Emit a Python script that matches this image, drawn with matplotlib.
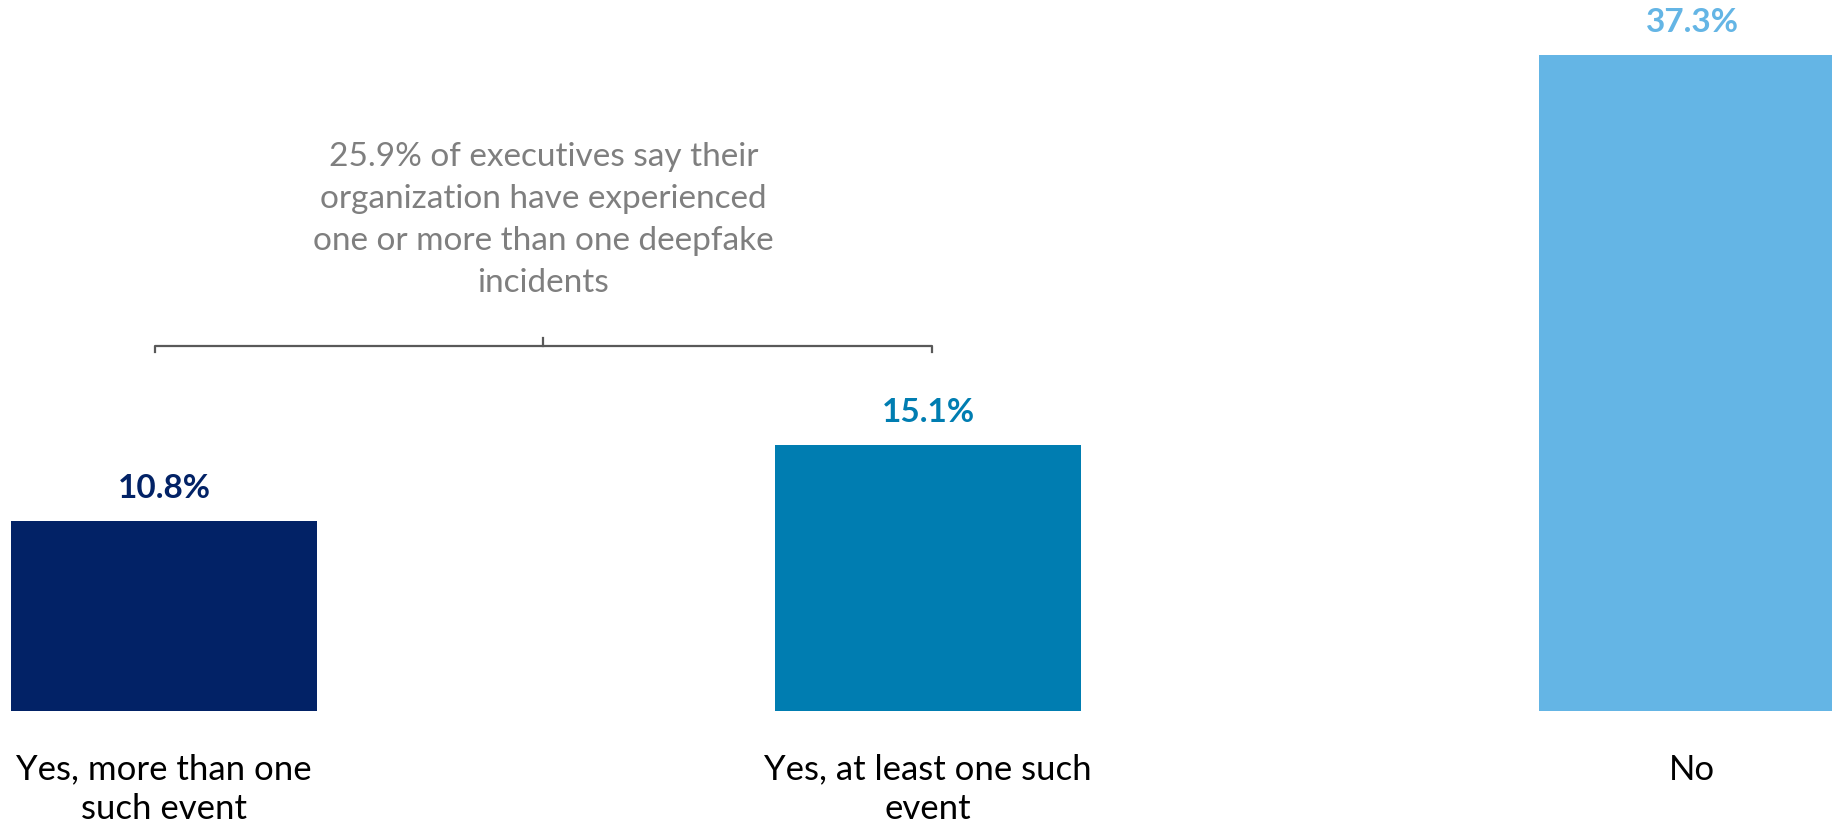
import numpy as np
import matplotlib.pyplot as plt

plt.rcParams['font.family'] = ['Lato', 'DejaVu Sans']

categories = ['Yes, more than one\nsuch event', 'Yes, at least one such\nevent', 'No']
values = [10.8, 15.1, 37.3]
colors = ['#022266', '#007DB1', '#64B5E5']
note = ('25.9% of executives say their\norganization have experienced\n'
        'one or more than one deepfake\nincidents')

fig = plt.figure(figsize=(18.32, 8.29), dpi=100)
ax = fig.add_axes([0, 117 / 829, 1, 712 / 829])

x = np.arange(len(values))
ax.bar(x, values, width=0.4, color=colors)
ax.set_xlim(-164 / 764, (1832 - 164) / 764)
ax.set_ylim(0, 712 / 17.6)
ax.axis('off')

# value labels above bars
for xi, v, c in zip(x, values, colors):
    ax.annotate(f'{v:.1f}%', (xi, v), xytext=(0, 24), textcoords='offset points',
                ha='center', va='center', fontsize=24, fontweight='bold', color=c)

# category labels under the baseline
for xi, lab in zip(x, categories):
    ax.annotate(lab, (xi, 0), xytext=(0, -30), textcoords='offset points',
                ha='center', va='top', fontsize=25, linespacing=1.3,
                color='black', annotation_clip=False)

# bracket grouping the two "yes" bars
yb = 20.74
xl, xr = x[0] - 0.012, x[1] + 0.005
xm = (xl + xr) / 2
ax.plot([xl, xl, xr, xr], [yb - 0.35, yb, yb, yb - 0.35], color='#595959', lw=1.6,
        solid_joinstyle='round')
ax.plot([xm, xm], [yb, yb + 0.45], color='#595959', lw=1.6)
ax.text(xm, 27.95, note, ha='center', va='center', fontsize=24,
        color='#7F7F7F', linespacing=1.5)

fig.savefig('out.png', dpi=100)
